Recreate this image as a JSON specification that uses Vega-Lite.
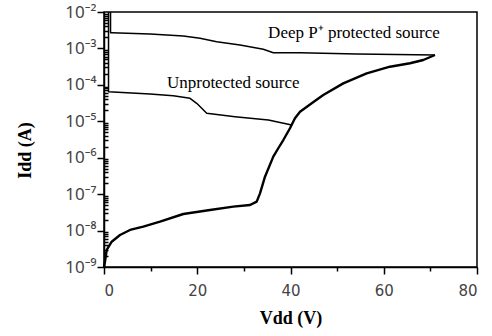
{
  "$schema": "https://vega.github.io/schema/vega-lite/v6.json",
  "autosize": {"type": "none"},
  "padding": {"left": 104, "top": 12, "right": 15, "bottom": 69},
  "width": 373,
  "height": 255,
  "background": "white",
  "config": {
    "view": {"stroke": "black", "strokeWidth": 1.5},
    "axis": {
      "domainColor": "black", "domainWidth": 1.5,
      "tickColor": "black", "tickWidth": 1.5,
      "grid": false,
      "labelFont": "DejaVu Sans", "labelColor": "#444", "labelFontSize": 15,
      "titleFont": "Liberation Serif", "titleFontWeight": "bold", "titleFontSize": 18, "titleColor": "black"
    }
  },
  "datasets": {
    "curves": [
      {"series": "base", "i": 0, "v": 0, "idd": 1.0e-9},
      {"series": "base", "i": 1, "v": 0.21, "idd": 1.40e-9},
      {"series": "base", "i": 2, "v": 0.58, "idd": 2.93e-9},
      {"series": "base", "i": 3, "v": 1.65, "idd": 4.95e-9},
      {"series": "base", "i": 4, "v": 3.43, "idd": 7.57e-9},
      {"series": "base", "i": 5, "v": 5.58, "idd": 1.04e-8},
      {"series": "base", "i": 6, "v": 8.43, "idd": 1.28e-8},
      {"series": "base", "i": 7, "v": 12.01, "idd": 1.75e-8},
      {"series": "base", "i": 8, "v": 17.01, "idd": 2.85e-8},
      {"series": "base", "i": 9, "v": 22.73, "idd": 3.67e-8},
      {"series": "base", "i": 10, "v": 27.73, "idd": 4.53e-8},
      {"series": "base", "i": 11, "v": 31.31, "idd": 5.04e-8},
      {"series": "base", "i": 12, "v": 32.75, "idd": 6.21e-8},
      {"series": "base", "i": 13, "v": 33.46, "idd": 1.05e-7},
      {"series": "base", "i": 14, "v": 34.53, "idd": 3.01e-7},
      {"series": "base", "i": 15, "v": 36.31, "idd": 1.07e-6},
      {"series": "base", "i": 16, "v": 37.38, "idd": 1.82e-6},
      {"series": "base", "i": 17, "v": 38.46, "idd": 3.06e-6},
      {"series": "base", "i": 18, "v": 39.89, "idd": 6.43e-6},
      {"series": "base", "i": 19, "v": 40.96, "idd": 1.21e-5},
      {"series": "base", "i": 20, "v": 42.04, "idd": 1.83e-5},
      {"series": "base", "i": 21, "v": 44.55, "idd": 3.12e-5},
      {"series": "base", "i": 22, "v": 47.03, "idd": 5.27e-5},
      {"series": "base", "i": 23, "v": 51.32, "idd": 1.10e-4},
      {"series": "base", "i": 24, "v": 56.34, "idd": 2.07e-4},
      {"series": "base", "i": 25, "v": 61.34, "idd": 3.15e-4},
      {"series": "base", "i": 26, "v": 65.63, "idd": 3.91e-4},
      {"series": "base", "i": 27, "v": 68.48, "idd": 4.81e-4},
      {"series": "base", "i": 28, "v": 70.99, "idd": 6.61e-4},
      {"series": "deep", "i": 0, "v": 70.99, "idd": 6.61e-4},
      {"series": "deep", "i": 1, "v": 54.2, "idd": 7.03e-4},
      {"series": "deep", "i": 2, "v": 42.04, "idd": 7.64e-4},
      {"series": "deep", "i": 3, "v": 36.31, "idd": 7.64e-4},
      {"series": "deep", "i": 4, "v": 34.17, "idd": 9.46e-4},
      {"series": "deep", "i": 5, "v": 29.17, "idd": 1.24e-3},
      {"series": "deep", "i": 6, "v": 24.17, "idd": 1.53e-3},
      {"series": "deep", "i": 7, "v": 20.59, "idd": 1.90e-3},
      {"series": "deep", "i": 8, "v": 17.01, "idd": 2.19e-3},
      {"series": "deep", "i": 9, "v": 9.87, "idd": 2.49e-3},
      {"series": "deep", "i": 10, "v": 1.65, "idd": 2.70e-3},
      {"series": "deep", "i": 11, "v": 1.4, "idd": 2.70e-3},
      {"series": "deep", "i": 12, "v": 1.4, "idd": 1.0e-2},
      {"series": "unprot", "i": 0, "v": 40.26, "idd": 7.91e-6},
      {"series": "unprot", "i": 1, "v": 35.26, "idd": 1.08e-5},
      {"series": "unprot", "i": 2, "v": 28.1, "idd": 1.34e-5},
      {"series": "unprot", "i": 3, "v": 22.03, "idd": 1.66e-5},
      {"series": "unprot", "i": 4, "v": 19.88, "idd": 3.12e-5},
      {"series": "unprot", "i": 5, "v": 18.45, "idd": 4.28e-5},
      {"series": "unprot", "i": 6, "v": 14.86, "idd": 5.04e-5},
      {"series": "unprot", "i": 7, "v": 9.87, "idd": 5.61e-5},
      {"series": "unprot", "i": 8, "v": 0.97, "idd": 6.49e-5},
      {"series": "unprot", "i": 9, "v": 0.97, "idd": 1.0e-2}
    ],
    "labels": [
      {"text": "Deep P⁺ protected source", "v": 35.2, "idd": 1.93e-3},
      {"text": "Unprotected source", "v": 13.5, "idd": 8.2e-5}
    ]
  },
  "encoding": {
    "x": {
      "field": "v", "type": "quantitative",
      "scale": {"domain": [0, 80], "nice": false, "zero": false},
      "axis": {
        "values": [0, 10, 20, 30, 40, 50, 60, 70, 80],
        "labelExpr": "datum.value % 20 == 0 ? datum.label : ''",
        "tickSize": {"condition": {"test": "datum.value % 20 == 0", "value": 7}, "value": 4},
        "labelPadding": 9,
        "title": "Vdd (V)",
        "titleY": 51, "titleBaseline": "middle"
      }
    },
    "y": {
      "field": "idd", "type": "quantitative",
      "scale": {"type": "log", "domain": [1e-9, 1e-2], "nice": false},
      "axis": {
        "values": [1e-9,2e-9,3e-9,4e-9,5e-9,6e-9,7e-9,8e-9,9e-9,1e-8,2e-8,3e-8,4e-8,5e-8,6e-8,7e-8,8e-8,9e-8,1e-7,2e-7,3e-7,4e-7,5e-7,6e-7,7e-7,8e-7,9e-7,1e-6,2e-6,3e-6,4e-6,5e-6,6e-6,7e-6,8e-6,9e-6,1e-5,2e-5,3e-5,4e-5,5e-5,6e-5,7e-5,8e-5,9e-5,1e-4,2e-4,3e-4,4e-4,5e-4,6e-4,7e-4,8e-4,9e-4,1e-3,2e-3,3e-3,4e-3,5e-3,6e-3,7e-3,8e-3,9e-3,1e-2],
        "labelExpr": "abs(log(datum.value)/LN10 - round(log(datum.value)/LN10)) < 0.01 ? '10⁻' + ['⁰','¹','²','³','⁴','⁵','⁶','⁷','⁸','⁹'][-round(log(datum.value)/LN10)] : ''",
        "tickSize": {"condition": {"test": "abs(log(datum.value)/LN10 - round(log(datum.value)/LN10)) < 0.01", "value": 7}, "value": -4},
        "labelPadding": 1,
        "labelFont": "Noto Sans",
        "labelFontSize": 17,
        "labelBaseline": "middle",
        "title": "Idd (A)",
        "titleX": -79, "titleY": 138, "titleAlign": "center", "titleBaseline": "middle"
      }
    }
  },
  "layer": [
    {
      "data": {"name": "curves"},
      "transform": [{"filter": "datum.series == 'base'"}],
      "mark": {"type": "line", "color": "black", "strokeWidth": 2.4, "strokeJoin": "round"},
      "encoding": {"order": {"field": "i", "type": "quantitative"}}
    },
    {
      "data": {"name": "curves"},
      "transform": [{"filter": "datum.series != 'base'"}],
      "mark": {"type": "line", "color": "black", "strokeWidth": 1.5, "strokeJoin": "round"},
      "encoding": {"detail": {"field": "series"}, "order": {"field": "i", "type": "quantitative"}}
    },
    {
      "data": {"name": "labels"},
      "mark": {"type": "text", "font": "Liberation Serif", "fontSize": 17, "align": "left", "baseline": "alphabetic", "color": "black"},
      "encoding": {"text": {"field": "text"}}
    }
  ]
}
